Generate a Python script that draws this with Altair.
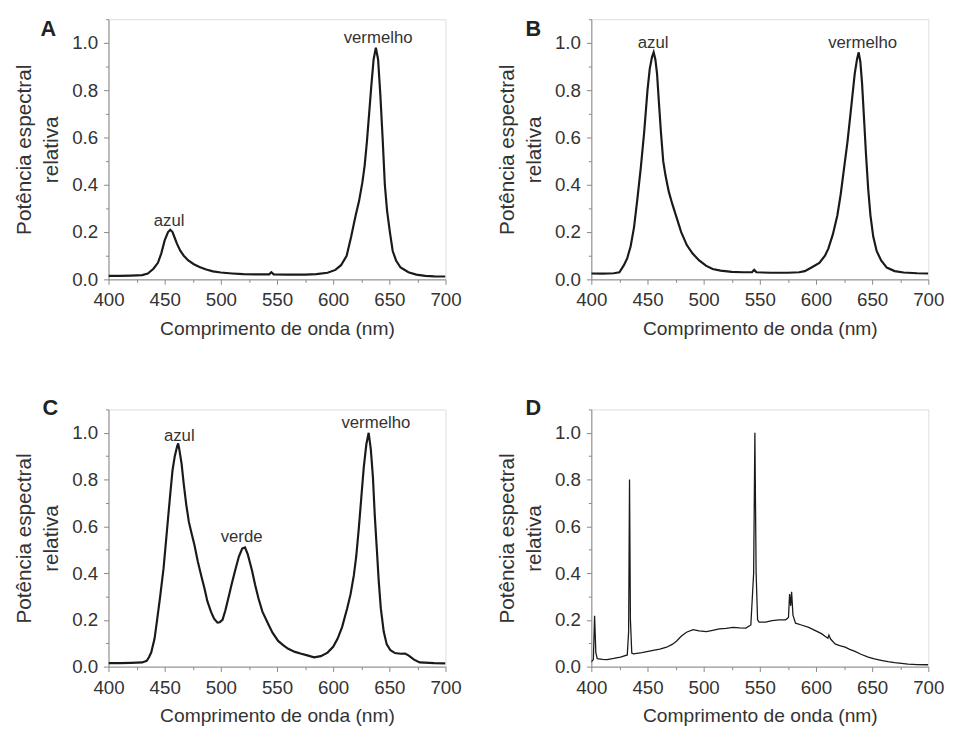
import altair as alt
import pandas as pd

# ---------------- data ----------------
a_wl = [400, 410, 420, 430, 435, 440, 444, 447, 450, 453, 455, 457, 459, 461, 464, 467, 471, 476, 481, 487,
        493, 500, 510, 520, 535, 543, 545, 547, 560, 575, 585, 595, 602, 607, 612, 616, 620, 623, 626, 628,
        630, 632, 634, 636, 638, 640, 642, 644, 646, 648, 650.5, 653, 656, 660, 667, 674, 682, 690, 700]
a_val = [0.015, 0.015, 0.016, 0.018, 0.025, 0.045, 0.07, 0.11, 0.165, 0.2, 0.21, 0.2, 0.175, 0.15, 0.12, 0.1,
         0.08, 0.064, 0.052, 0.042, 0.034, 0.029, 0.025, 0.022, 0.021, 0.021, 0.03, 0.021, 0.02, 0.02, 0.022,
         0.028, 0.04, 0.06, 0.1, 0.18, 0.27, 0.33, 0.41, 0.48, 0.58, 0.7, 0.82, 0.93, 0.98, 0.93, 0.78, 0.6,
         0.4, 0.29, 0.2, 0.12, 0.08, 0.05, 0.03, 0.02, 0.015, 0.013, 0.012]

b_wl = [400, 410, 420, 425, 429, 432, 435, 438, 441, 444, 447, 450, 452, 454, 455.5, 457, 458.5, 460, 462, 464,
        466, 469, 472, 476, 480, 485, 490, 496, 502, 508, 515, 525, 535, 543, 545, 547, 560, 575, 585, 590,
        596, 603, 608, 611, 615, 619, 622, 625, 628, 630.5, 632.5, 634.5, 636.5, 638, 639.5, 641, 643, 644.5,
        646.5, 648.5, 651, 654, 658, 663, 670, 678, 690, 700]
b_val = [0.025, 0.024, 0.026, 0.03, 0.06, 0.09, 0.14, 0.22, 0.34, 0.47, 0.62, 0.8, 0.89, 0.94, 0.96, 0.93,
         0.87, 0.76, 0.62, 0.5, 0.44, 0.37, 0.32, 0.26, 0.2, 0.145, 0.11, 0.08, 0.058, 0.044, 0.037, 0.032,
         0.03, 0.03, 0.04, 0.03, 0.028, 0.028, 0.03, 0.035, 0.05, 0.07, 0.1, 0.13, 0.19, 0.27, 0.36, 0.47,
         0.58, 0.69, 0.78, 0.87, 0.93, 0.96, 0.92, 0.83, 0.66, 0.53, 0.38, 0.27, 0.18, 0.12, 0.08, 0.05, 0.035,
         0.029, 0.026, 0.025]

c_wl = [400, 410, 420, 430, 434, 436, 438, 441, 443, 446, 449, 452, 455, 457, 459, 461, 462, 463, 465, 467,
        469.3, 471.5, 473.7, 476.5, 479.5, 482.5, 485.4, 488, 491.2, 494, 497, 499, 501.5, 504, 507.3, 510,
        513.2, 516, 519, 521.5, 524, 527.8, 530.5, 533.6, 537, 542.4, 546, 551, 556, 560, 566, 571.6, 577,
        583, 589, 595, 600, 604, 608, 612.5, 615.5, 618.4, 620.5, 622.8, 625, 627.2, 629.5, 631.6, 633.5,
        635.4, 637, 638.9, 640.5, 642.4, 645, 647.7, 651, 655, 660, 664, 667, 672, 677, 690, 700]
c_val = [0.015, 0.015, 0.016, 0.018, 0.025, 0.04, 0.06, 0.12, 0.19, 0.3, 0.42, 0.58, 0.74, 0.84, 0.9, 0.94,
         0.955, 0.93, 0.87, 0.78, 0.69, 0.62, 0.575, 0.52, 0.45, 0.39, 0.335, 0.28, 0.235, 0.205, 0.188, 0.19,
         0.2, 0.24, 0.305, 0.36, 0.42, 0.47, 0.505, 0.51, 0.48, 0.41, 0.35, 0.29, 0.235, 0.18, 0.145, 0.11,
         0.09, 0.076, 0.063, 0.055, 0.048, 0.04, 0.045, 0.06, 0.085, 0.12, 0.17, 0.25, 0.31, 0.39, 0.47, 0.59,
         0.72, 0.85, 0.95, 1.0, 0.93, 0.81, 0.65, 0.5, 0.37, 0.25, 0.15, 0.095, 0.07, 0.058, 0.055, 0.056,
         0.048, 0.03, 0.018, 0.015, 0.014]

d_wl = [400, 401.8, 402.9, 404, 405.3, 410, 414, 420, 426, 432, 433.2, 434, 434.8, 436, 437.6, 445, 455, 461,
        467, 472, 476, 480, 484.7, 490.6, 496, 502.4, 508, 514, 520, 526, 532, 537.6, 542, 544.5, 545.6,
        546.7, 548, 549.4, 555, 561, 567, 573, 575.5, 576.5, 577.5, 578.3, 579.5, 581.8, 587, 593.5, 599,
        605.3, 608, 610.6, 611.5, 613, 617, 621, 626, 630, 634.7, 640, 646.5, 652, 658, 664, 670, 676, 682,
        690, 700]
d_val = [0.02, 0.03, 0.217, 0.06, 0.034, 0.031, 0.03, 0.035, 0.041, 0.05, 0.15, 0.8, 0.2, 0.058, 0.055, 0.06,
         0.069, 0.075, 0.083, 0.095, 0.11, 0.13, 0.147, 0.158, 0.153, 0.15, 0.155, 0.161, 0.164, 0.168, 0.166,
         0.165, 0.178, 0.4, 1.0, 0.4, 0.2, 0.19, 0.19, 0.197, 0.2, 0.2, 0.21, 0.31, 0.26, 0.32, 0.22, 0.186,
         0.178, 0.168, 0.155, 0.14, 0.13, 0.121, 0.135, 0.118, 0.097, 0.09, 0.083, 0.074, 0.065, 0.053, 0.041,
         0.033, 0.027, 0.021, 0.017, 0.014, 0.011, 0.009, 0.008]

# annotation labels: (wavelength, value, text)
a_lbl_wl = [454, 640]
a_lbl_val = [0.245, 1.02]
a_lbl_txt = ["azul", "vermelho"]
b_lbl_wl = [455, 641.5]
b_lbl_val = [1.0, 1.0]
b_lbl_txt = ["azul", "vermelho"]
c_lbl_wl = [463, 518.5, 638]
c_lbl_val = [0.985, 0.553, 1.042]
c_lbl_txt = ["azul", "verde", "vermelho"]
d_lbl_wl = []
d_lbl_val = []
d_lbl_txt = []

x_major = [400, 450, 500, 550, 600, 650, 700]
x_minor = [425, 475, 525, 575, 625, 675]
y_major = [0.0, 0.2, 0.4, 0.6, 0.8, 1.0]
y_minor = [0.1, 0.3, 0.5, 0.7, 0.9, 1.1]

X_TITLE = "Comprimento de onda (nm)"
Y_TITLE = ["Potência espectral", "relativa"]

FONT = "Liberation Sans"
INK = "#333333"
LINE = "#1a1a1a"
LABEL_SIZE = 19
XT_SIZE = 19.5
YT_SIZE = 21


def panel(wl, val, lw, lv, lt, letter, height, letter_x, letter_y, stroke):
    df = pd.DataFrame({"wl": wl, "val": val})
    xs = alt.Scale(domain=[400, 700], nice=False, zero=False)
    ys = alt.Scale(domain=[0, 1.1], nice=False, zero=False)

    line = alt.Chart(df).mark_line(color=LINE, strokeWidth=stroke, clip=True).encode(
        x=alt.X("wl:Q", scale=xs, axis=alt.Axis(
            orient="bottom", values=x_major, format="d", title=X_TITLE, grid=False,
            labelFont=FONT, titleFont=FONT,
            labelFontSize=LABEL_SIZE, titleFontSize=XT_SIZE, titleFontWeight="normal",
            labelColor=INK, titleColor=INK,
            tickSize=5, labelPadding=7, titlePadding=10, labelFlush=False)),
        y=alt.Y("val:Q", scale=ys, axis=alt.Axis(
            orient="left", values=y_major, format=".1f", title=Y_TITLE, grid=False,
            labelFont=FONT, titleFont=FONT,
            labelFontSize=LABEL_SIZE, titleFontSize=YT_SIZE, titleFontWeight="normal",
            labelColor=INK, titleColor=INK,
            tickSize=5, labelPadding=6, titlePadding=10, titleLineHeight=28,
            labelFlush=False)),
    )
    minor = alt.Chart(df).mark_line(opacity=0, strokeWidth=0).encode(
        x=alt.X("wl:Q", scale=xs, axis=alt.Axis(
            orient="bottom", values=x_minor, labels=False, domain=False, grid=False,
            tickSize=3, title=None)),
        y=alt.Y("val:Q", scale=ys, axis=alt.Axis(
            orient="left", values=y_minor, labels=False, domain=False, grid=False,
            tickSize=3, title=None)),
    )
    layers = [line, minor]
    if lt:
        ann = pd.DataFrame({"wl": lw, "val": lv, "txt": lt})
        layers.append(alt.Chart(ann).mark_text(
            font=FONT, fontSize=17, color=INK, baseline="middle", align="center").encode(
            x=alt.X("wl:Q", scale=xs, axis=None),
            y=alt.Y("val:Q", scale=ys, axis=None),
            text="txt:N"))
    lab = pd.DataFrame({"t": [letter]})
    layers.append(alt.Chart(lab).mark_text(
        font=FONT, fontSize=22, fontWeight="bold", color="#222222",
        baseline="alphabetic", align="center").encode(
        text="t:N", x=alt.value(letter_x), y=alt.value(letter_y)))
    return alt.layer(*layers).resolve_axis(x="independent", y="independent").properties(
        width=342, height=height)


pA = panel(a_wl, a_val, a_lbl_wl, a_lbl_val, a_lbl_txt, "A", 264, -61, 17.5, 2.2)
pB = panel(b_wl, b_val, b_lbl_wl, b_lbl_val, b_lbl_txt, "B", 264, -59, 17.5, 2.2)
pC = panel(c_wl, c_val, c_lbl_wl, c_lbl_val, c_lbl_txt, "C", 261, -59, 6, 2.2)
pD = panel(d_wl, d_val, d_lbl_wl, d_lbl_val, d_lbl_txt, "D", 261, -59, 6, 1.3)

chart = alt.vconcat(
    alt.hconcat(pA, pB, spacing=34),
    alt.hconcat(pC, pD, spacing=34),
    spacing=59,
).configure_view(stroke=None).configure_axis(
    labelFont=FONT, titleFont=FONT, labelColor=INK, titleColor=INK,
    labelFontSize=LABEL_SIZE, titleFontSize=XT_SIZE,
    titleFontWeight="normal", domainColor="#222222", domainWidth=1.5,
    tickColor="#222222", tickWidth=1.5, grid=False,
).configure(padding={"left": 5, "top": 5, "right": 5, "bottom": 5}, background="white")

chart.save("out.html", embed_options={"renderer": "svg", "actions": False})
